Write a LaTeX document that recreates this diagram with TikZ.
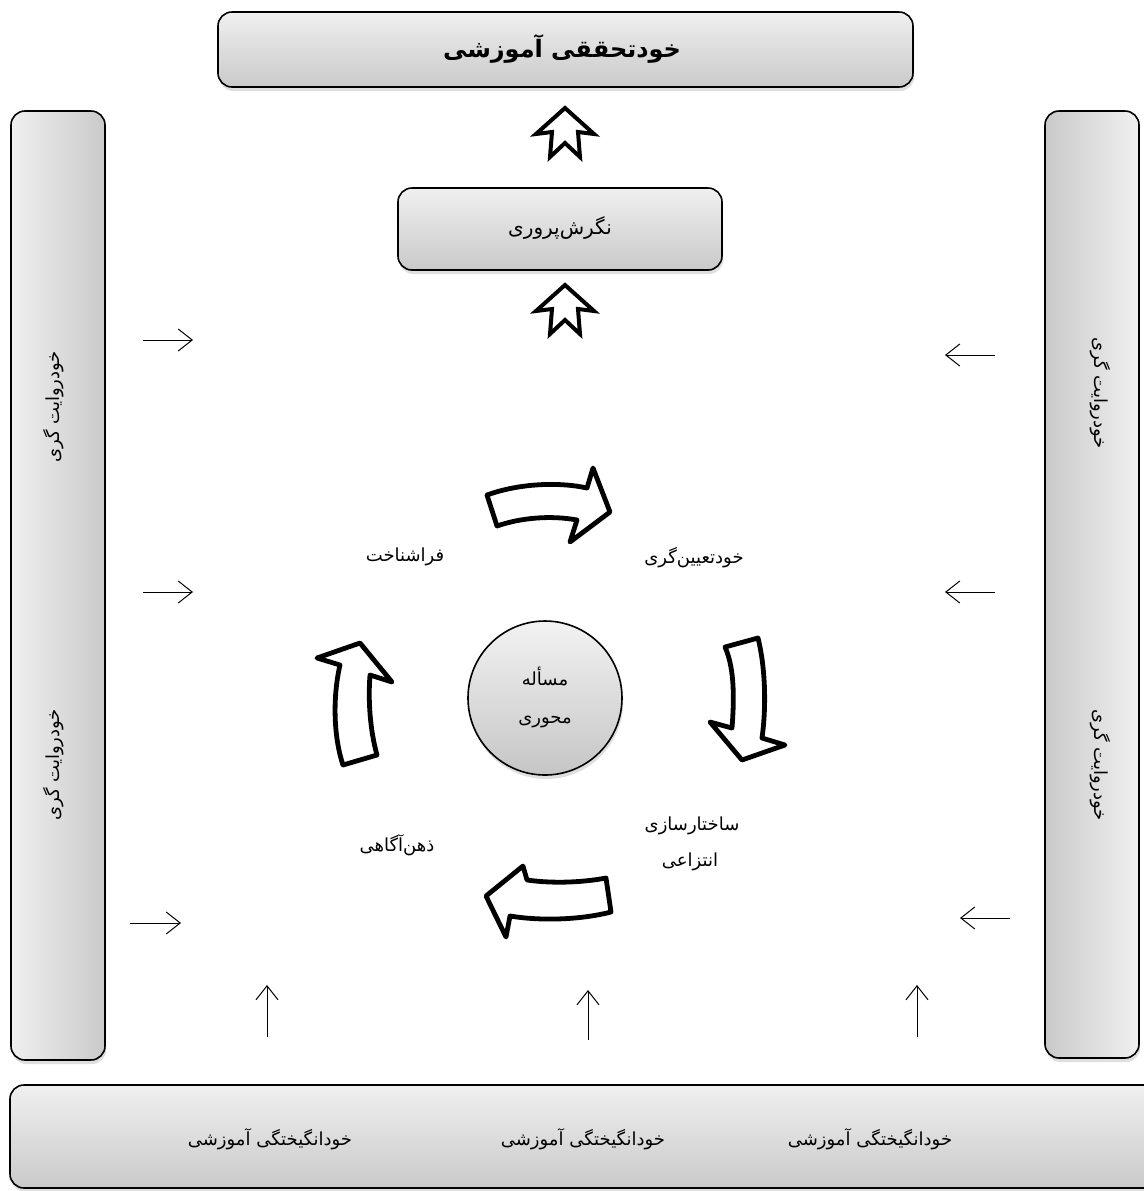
\documentclass[tikz,border=0pt]{standalone}
\usepackage{fontspec}
\newfontfamily\arabicfont[Script=Arabic]{DejaVu Sans}
\TeXXeTstate=1
\usetikzlibrary{shadows,arrows.meta}
\newcommand{\faTxt}[1]{\beginR #1\endR}
\begin{document}
\begin{tikzpicture}[x=0.5pt,y=-0.5pt,
  boxbase/.style={draw=black, line width=0.8pt, rounded corners=7pt, inner sep=0pt,
     drop shadow={shadow xshift=0.6pt, shadow yshift=-2pt, opacity=0.25}},
  vgrad/.style={boxbase, top color=gray!12, bottom color=gray!42},
  lgrad/.style={boxbase, left color=gray!12, right color=gray!42},
  rgrad/.style={boxbase, left color=gray!42, right color=gray!12},
  lbl/.style={font=\arabicfont\fontsize{9}{11}\selectfont, inner sep=1pt},
  boldlbl/.style={font=\arabicfont\bfseries\fontsize{12}{14}\selectfont, inner sep=1pt},
  thinarrow/.style={-{Straight Barb[length=7pt,width=11pt]}, line width=0.5pt},
  bigarrow/.style={draw=black, fill=white, line width=2.4pt, line join=round},
  uparrow/.style={draw=black, fill=white, line width=2pt, line join=miter}
]
\path[use as bounding box] (0,0) rectangle (1144,1191);
\clip (0,0) rectangle (1144,1191);

% boxes
\node[vgrad, minimum width=347.5pt, minimum height=37.5pt] (top) at (565.5,49.5) {};
\node[boldlbl] (toptext) at (562,49) {\faTxt{خودتحققی آموزشی}};
\node[vgrad, minimum width=162pt, minimum height=41pt] (mid) at (560,229) {};
\node[lbl, font=\arabicfont\fontsize{10}{12}\selectfont] (midtext) at (560,228) {\faTxt{نگرش‌پروری}};

\node[lgrad, minimum width=47pt, minimum height=474.5pt] (lbox) at (58,585.5) {};
\node[rgrad, minimum width=47pt, minimum height=473.5pt] (rbox) at (1092,584.5) {};
\node[vgrad, minimum width=580pt, minimum height=51.5pt] (bbox) at (590,1136.5) {};

\node[lbl, rotate=90] (l1) at (54,407) {\faTxt{خودروایت گری}};
\node[lbl, rotate=90] (l2) at (54,765) {\faTxt{خودروایت گری}};
\node[lbl, rotate=-90] (r1) at (1100,393) {\faTxt{خودروایت گری}};
\node[lbl, rotate=-90] (r2) at (1100,765) {\faTxt{خودروایت گری}};

\node[lbl] (b1) at (270,1139) {\faTxt{خودانگیختگی آموزشی}};
\node[lbl] (b2) at (583,1139) {\faTxt{خودانگیختگی آموزشی}};
\node[lbl] (b3) at (870,1139) {\faTxt{خودانگیختگی آموزشی}};

% circle
\node[circle, draw=black, line width=0.8pt, top color=gray!10, bottom color=gray!45,
      minimum size=77pt, inner sep=0pt,
      drop shadow={shadow xshift=0.6pt, shadow yshift=-2pt, opacity=0.25}] (core) at (545,698) {};
\node[lbl] (c1) at (545,676) {\faTxt{مسأله}};
\node[lbl] (c2) at (545,722) {\faTxt{محوری}};

% cycle labels
\node[lbl] (n1) at (405,557) {\faTxt{فراشناخت}};
\node[lbl] (n2) at (694,558) {\faTxt{خودتعیین‌گری}};
\node[lbl] (n3a) at (692,826) {\faTxt{ساختارسازی}};
\node[lbl] (n3b) at (690,862) {\faTxt{انتزاعی}};
\node[lbl] (n4) at (397,845) {\faTxt{ذهن‌آگاهی}};

% block up arrows
\draw[uparrow] (565,108) -- (594,134) -- (578,132) -- (580,157) -- (565,143) -- (550,157) -- (552,132) -- (536,134) -- cycle;
\draw[uparrow, shift={(0,177)}] (565,108) -- (594,134) -- (578,132) -- (580,157) -- (565,143) -- (550,157) -- (552,132) -- (536,134) -- cycle;

% curved block arrows
\draw[bigarrow] (487,495) .. controls (520,483) and (560,482) .. (587,488) -- (593,468) -- (610,512) -- (570,542) -- (577,520) .. controls (550,515) and (520,518) .. (497,526) -- cycle;
\draw[bigarrow] (725,647) -- (758,638) .. controls (766,670) and (766,710) .. (762,738) -- (785,745) -- (742,760) -- (710,722) -- (732,728) .. controls (735,690) and (733,665) .. (725,647) -- cycle;
\draw[bigarrow] (606,878) -- (611,912) .. controls (580,920) and (540,921) .. (510,916) -- (506,937) -- (486,896) -- (523,866) -- (527,880) .. controls (555,884) and (585,882) .. (606,878) -- cycle;
\draw[bigarrow] (343,765) -- (377,755) .. controls (370,730) and (368,700) .. (370,675) -- (392,682) -- (360,643) -- (317,658) -- (340,665) .. controls (333,695) and (333,735) .. (343,765) -- cycle;

% thin arrows
\coordinate (la1) at (143,340); \coordinate (lb1) at (193,340);
\coordinate (la2) at (143,592); \coordinate (lb2) at (193,592);
\coordinate (la3) at (130,923); \coordinate (lb3) at (181,923);
\coordinate (ra1) at (995,355); \coordinate (rb1) at (945,355);
\coordinate (ra2) at (995,592); \coordinate (rb2) at (945,592);
\coordinate (ra3) at (1010,918); \coordinate (rb3) at (960,918);
\coordinate (ua1) at (267,1037); \coordinate (ub1) at (267,985);
\coordinate (ua2) at (588,1040); \coordinate (ub2) at (588,990);
\coordinate (ua3) at (917,1037); \coordinate (ub3) at (917,985);
\draw[thinarrow] (la1) -- (lb1);
\draw[thinarrow] (la2) -- (lb2);
\draw[thinarrow] (la3) -- (lb3);
\draw[thinarrow] (ra1) -- (rb1);
\draw[thinarrow] (ra2) -- (rb2);
\draw[thinarrow] (ra3) -- (rb3);
\draw[thinarrow] (ua1) -- (ub1);
\draw[thinarrow] (ua2) -- (ub2);
\draw[thinarrow] (ua3) -- (ub3);
\end{tikzpicture}
\end{document}
